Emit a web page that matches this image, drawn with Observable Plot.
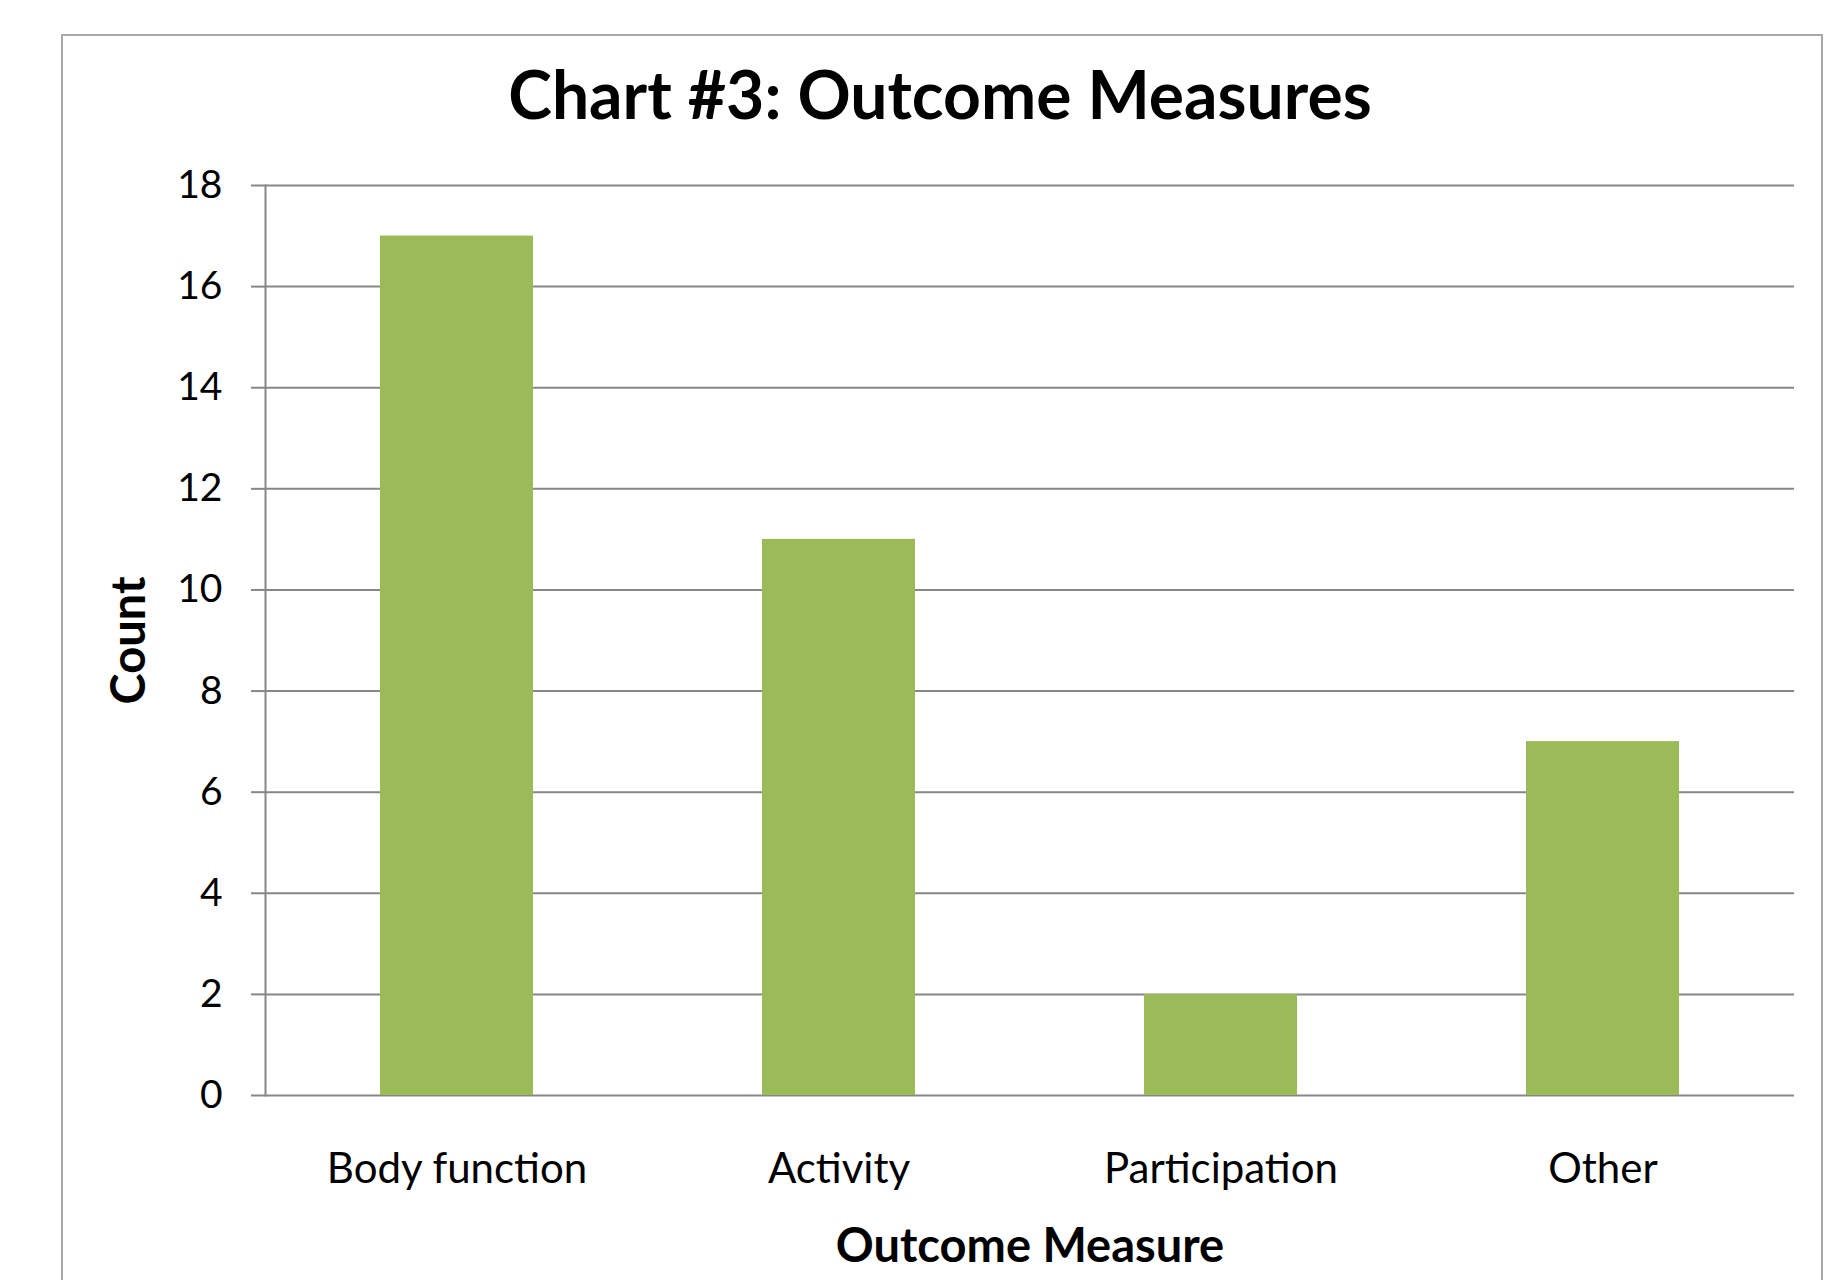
<!DOCTYPE html>
<html>
<head>
<meta charset="utf-8">
<script src="https://cdn.jsdelivr.net/npm/d3@7"></script>
<script src="https://cdn.jsdelivr.net/npm/@observablehq/plot@0.6"></script>
<style>
  html, body { margin: 0; padding: 0; background: white; }
  #page { position: relative; width: 1831px; height: 1280px; overflow: hidden; background: white; font-family: Lato, "Open Sans", sans-serif; }
  #title { position: absolute; left: 0; top: 61px; width: 1880px; text-align: center; font-size: 66px; line-height: 66px; font-weight: bold; color: black; }
  #border { position: absolute; left: 61px; top: 34px; width: 1758px; height: 1300px; border: 2px solid #a9a9a9; border-bottom: none; pointer-events: none; z-index: 5; }
  #chart { position: absolute; left: 0; top: 140px; }
</style>
</head>
<body>
<div id="page">
  <div id="title">Chart #3: Outcome Measures</div>
  <div id="chart"></div>
  <div id="border"></div>
</div>
<script>
const categories = ["Body function", "Activity", "Participation", "Other"];
const counts = [17, 11, 2, 7];
const yTicks = [0, 2, 4, 6, 8, 10, 12, 14, 16, 18];
const xTitle = "Outcome Measure";
const yTitle = "Count";

const data = categories.map((c, i) => ({category: c, count: counts[i]}));

const chart = Plot.plot({
  width: 1831,
  height: 1140,
  marginTop: 45,
  marginBottom: 185,
  marginLeft: 265,
  marginRight: 37,
  style: {fontFamily: "Lato, 'Open Sans', sans-serif", fontSize: "42px", color: "black", background: "transparent", maxWidth: "none"},
  x: {domain: categories, paddingInner: 0.6, paddingOuter: 0.3, label: null},
  y: {domain: [0, 18], label: null},
  marks: [
    Plot.gridY(yTicks, {stroke: "#878787", strokeOpacity: 1, strokeWidth: 2}),
    Plot.frame({anchor: "left", stroke: "#878787", strokeWidth: 2}),
    Plot.barY(data, {x: "category", y: "count", fill: "#9bbb59"}),
    Plot.axisY(yTicks, {tickSize: 14, tickPadding: 29, stroke: "#878787", strokeWidth: 2, fill: "black", fontSize: 39, tickFormat: d => String(d), label: null}),
    Plot.axisX({tickSize: 0, tickPadding: 58, fill: "black", fontSize: 42, label: null}),
    Plot.text([xTitle], {frameAnchor: "bottom", dy: 166, fontSize: 47, fontWeight: "bold", fill: "black", textAnchor: "middle"}),
    Plot.text([yTitle], {frameAnchor: "left", dx: -136, rotate: -90, fontSize: 47, fontWeight: "bold", fill: "black", textAnchor: "middle"})
  ]
});
document.getElementById("chart").appendChild(chart);
</script>
</body>
</html>
